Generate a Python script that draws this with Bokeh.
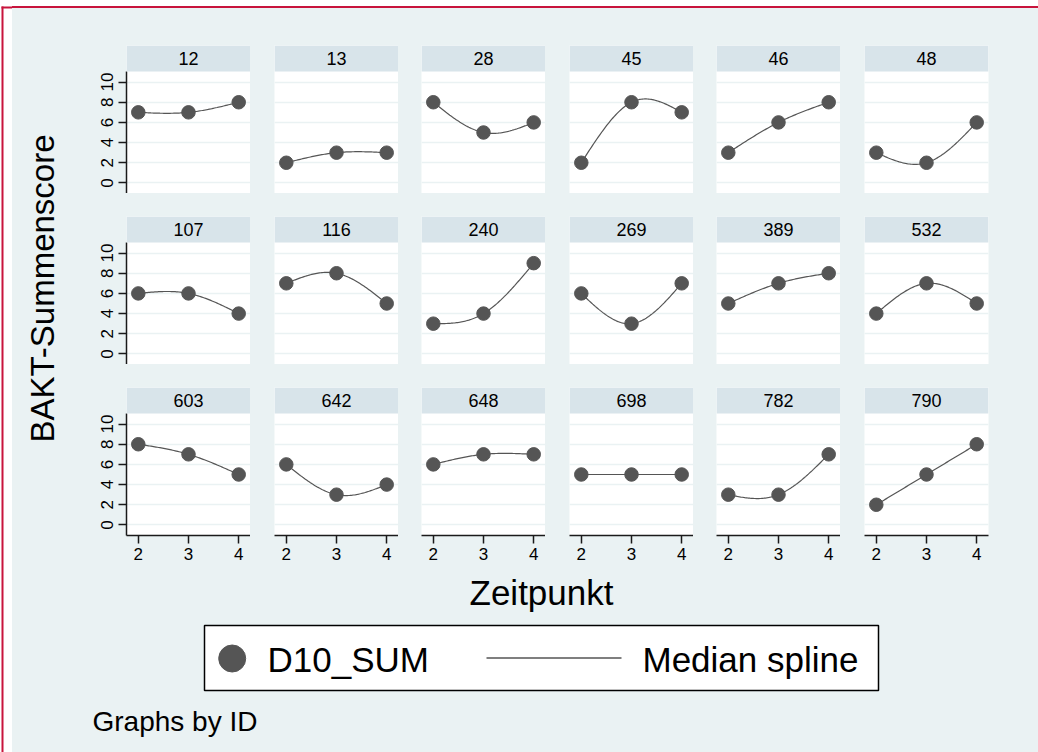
import math
import numpy as np
from bokeh.plotting import figure
from bokeh.layouts import column, row
from bokeh.models import Range1d, LinearAxis, Grid, FixedTicker, BoxAnnotation, Label, Div
from bokeh.embed import file_html
from bokeh.resources import INLINE
from bokeh.core.properties import value

# ---------------- data ----------------
ids = [12, 13, 28, 45, 46, 48,
       107, 116, 240, 269, 389, 532,
       603, 642, 648, 698, 782, 790]
timepoints = [2, 3, 4]
score_t2 = [7, 2, 8, 2, 3, 3, 6, 7, 3, 6, 5, 4, 8, 6, 6, 5, 3, 2]
score_t3 = [7, 3, 5, 8, 6, 2, 6, 8, 4, 3, 7, 7, 7, 3, 7, 5, 3, 5]
score_t4 = [8, 3, 6, 7, 8, 6, 4, 5, 9, 7, 8, 5, 5, 4, 7, 5, 7, 8]
y_ticks = [0, 2, 4, 6, 8, 10]
x_ticks = [2, 3, 4]
y_title = "BAKT-Summenscore"
x_title = "Zeitpunkt"
legend_labels = ["D10_SUM", "Median spline"]
note_text = "Graphs by ID"

# ---------------- style ----------------
FONT = "Liberation Sans"
BG = "#EAF2F3"
STRIP = "#D8E4EA"
RED = "#C8143C"
MARK = "#555555"
AXIS = "#1a1a1a"

X_LO, X_HI = 1.765, 4.235
Y_LO, Y_HI = -1.05, 11.05
FRAME_W, PLOT_H, HEAD_H = 124, 122, 26
Y_TOP = Y_HI + (Y_HI - Y_LO) * HEAD_H / PLOT_H

col_gaps = [56, 24, 23, 24, 23, 24]
row_gaps = [37, 23, 23]
RIGHT_PAD = 50
BOTTOM_AXIS = 34
GRID_H = sum(row_gaps) + 3 * (HEAD_H + PLOT_H) + BOTTOM_AXIS   # 559
TOP0 = 8
BOT_Y0 = TOP0 + GRID_H                                          # 567
BG_STYLE = {"background-color": BG}


def natural_spline(xs, ys, n=80):
    xs = np.asarray(xs, float)
    ys = np.asarray(ys, float)
    k = len(xs)
    h = np.diff(xs)
    A = np.zeros((k, k))
    b = np.zeros(k)
    A[0, 0] = 1.0
    A[-1, -1] = 1.0
    for i in range(1, k - 1):
        A[i, i - 1] = h[i - 1]
        A[i, i] = 2 * (h[i - 1] + h[i])
        A[i, i + 1] = h[i]
        b[i] = 6 * ((ys[i + 1] - ys[i]) / h[i] - (ys[i] - ys[i - 1]) / h[i - 1])
    M = np.linalg.solve(A, b)
    xx = np.linspace(xs[0], xs[-1], n)
    yy = np.empty_like(xx)
    for j, x in enumerate(xx):
        i = min(np.searchsorted(xs, x, side="right") - 1, k - 2)
        i = max(i, 0)
        a = xs[i + 1] - x
        c = x - xs[i]
        hi = h[i]
        yy[j] = (M[i] * a ** 3 + M[i + 1] * c ** 3) / (6 * hi) \
            + (ys[i] / hi - M[i] * hi / 6) * a + (ys[i + 1] / hi - M[i + 1] * hi / 6) * c
    return xx, yy


def plain_fig(w, h, xr, yr, fill):
    p = figure(width=w, height=h, x_range=xr, y_range=yr,
               x_axis_location=None, y_axis_location=None,
               toolbar_location=None, tools="", output_backend="svg",
               title=None, outline_line_color=None,
               background_fill_color=fill, border_fill_color=fill,
               min_border_left=0, min_border_right=0,
               min_border_top=0, min_border_bottom=0)
    for g in p.grid:
        g.visible = False
    return p


rows = []
for r in range(3):
    figs = []
    for c in range(6):
        i = r * 6 + c
        left = col_gaps[c]
        right = RIGHT_PAD if c == 5 else 0
        top = row_gaps[r]
        bottom = BOTTOM_AXIS if r == 2 else 0
        p = figure(width=left + FRAME_W + right,
                   height=top + HEAD_H + PLOT_H + bottom,
                   x_range=Range1d(X_LO, X_HI), y_range=Range1d(Y_LO, Y_TOP),
                   x_axis_location=None, y_axis_location=None,
                   toolbar_location=None, tools="", output_backend="svg",
                   title=None, outline_line_color=None,
                   background_fill_color="white", border_fill_color=BG,
                   min_border_left=left, min_border_right=right,
                   min_border_top=top, min_border_bottom=bottom,
                   styles=BG_STYLE)
        for g in p.grid:
            g.visible = False
        p.add_layout(Grid(dimension=1, ticker=FixedTicker(ticks=y_ticks),
                          grid_line_color=BG, grid_line_width=1.6))
        if c == 0:
            ya = LinearAxis(ticker=FixedTicker(ticks=y_ticks), bounds=(Y_LO, Y_HI),
                            major_label_orientation="vertical",
                            major_tick_out=8, major_tick_in=0,
                            minor_tick_out=0, minor_tick_in=0,
                            axis_line_color=AXIS, axis_line_width=1.5,
                            major_tick_line_color=AXIS, major_tick_line_width=1.5,
                            major_label_text_font_size="17px",
                            major_label_text_font=FONT,
                            major_label_text_color="black",
                            major_label_standoff=5)
            p.add_layout(ya, "left")
        if r == 2:
            xa = LinearAxis(ticker=FixedTicker(ticks=x_ticks),
                            major_tick_out=8, major_tick_in=0,
                            minor_tick_out=0, minor_tick_in=0,
                            axis_line_color=AXIS, axis_line_width=1.5,
                            major_tick_line_color=AXIS, major_tick_line_width=1.5,
                            major_label_text_font_size="17px",
                            major_label_text_font=FONT,
                            major_label_text_color="black",
                            major_label_standoff=4)
            p.add_layout(xa, "below")
        p.add_layout(BoxAnnotation(bottom=Y_HI, fill_color=STRIP, fill_alpha=1.0,
                                   line_color=None))
        p.add_layout(Label(x=(X_LO + X_HI) / 2, y=(Y_HI + Y_TOP) / 2,
                           text=str(ids[i]), text_align="center",
                           text_baseline="middle", text_font=FONT,
                           text_font_size="18px", text_color="black"))
        ys = [score_t2[i], score_t3[i], score_t4[i]]
        sx, sy = natural_spline(timepoints, ys)
        p.line(sx, sy, line_color=MARK, line_width=1.2)
        p.scatter(timepoints, ys, size=13.5, fill_color=MARK, line_color=MARK)
        figs.append(p)
    rows.append(row(*figs, spacing=0, styles=BG_STYLE))

grid = column(*rows, spacing=0, styles=BG_STYLE)

# y title strip (page coords x 12..70, y 8..BOT_Y0)
yt = plain_fig(58, GRID_H, Range1d(12, 70), Range1d(BOT_Y0, TOP0), BG)
yt.text(x=[42], y=[288], text=[y_title], angle=math.pi / 2,
        text_align="center", text_baseline="middle",
        text_font=value(FONT), text_font_size="33px", text_color="black")

# bottom area (page coords x 12..1038, y BOT_Y0..752)
bt = plain_fig(1026, 752 - BOT_Y0, Range1d(12, 1038), Range1d(752, BOT_Y0), BG)
bt.text(x=[541], y=[592], text=[x_title], text_align="center",
        text_baseline="middle", text_font=value(FONT),
        text_font_size="35px", text_color="black")
bt.quad(left=[204], right=[878], top=[625], bottom=[690],
        fill_color="white", line_color="black", line_width=1.5)
bt.scatter(x=[231.7], y=[658], size=27, fill_color=MARK, line_color=MARK)
bt.segment(x0=[486], y0=[657.5], x1=[621], y1=[657.5], line_color=MARK, line_width=1.6)
bt.text(x=[267, 642], y=[658.5, 658.5], text=legend_labels, text_align="left",
        text_baseline="middle", text_font=value(FONT),
        text_font_size="35px", text_color="black")
bt.text(x=[92], y=[721], text=[note_text], text_align="left",
        text_baseline="middle", text_font=value(FONT),
        text_font_size="28px", text_color="black")

# outer white margin with red border lines
top_strip = Div(text="", width=1026, height=8, margin=0,
                styles={"background": f"linear-gradient(to bottom, white 0px, white 6px, {RED} 6px, {RED} 8px)"})

left_strip = plain_fig(12, 752, Range1d(0, 12), Range1d(752, 0), "white")
left_strip.quad(left=[1], right=[3], top=[6], bottom=[752], fill_color=RED, line_color=None)
left_strip.quad(left=[1], right=[12], top=[6], bottom=[8], fill_color=RED, line_color=None)

main = column(row(yt, grid, spacing=0, styles=BG_STYLE), bt, spacing=0, styles=BG_STYLE)
page = row(left_strip, column(top_strip, main, spacing=0), spacing=0)

open("out.html", "w").write(file_html(page, INLINE))
